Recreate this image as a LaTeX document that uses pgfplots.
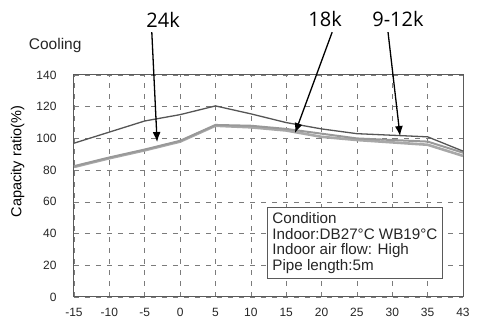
\documentclass[border=0pt]{standalone}
\usepackage{pgfplots}
\pgfplotsset{compat=1.18}
\usetikzlibrary{arrows.meta}
\usepackage{fontspec}
\setmainfont{Liberation Sans}
\newfontfamily\annfont{Open Sans}
\definecolor{frame}{HTML}{5A5A5A}
\definecolor{darkline}{HTML}{555555}
\definecolor{lightline}{HTML}{999999}
\definecolor{lightline2}{HTML}{A8A8A8}
\begin{document}
\begin{tikzpicture}
\begin{axis}[
    scale only axis,
    width=389pt, height=222pt,
    xmin=0, xmax=11,
    ymin=0, ymax=140,
    xtick={0,...,11},
    xticklabels={-15,-10,-5,0,5,10,15,20,25,30,35,43},
    ytick={0,20,...,140},
    major tick length=0pt,
    axis line style={frame, line width=1pt},
    grid=major,
    major grid style={frame!80, dash pattern=on 5pt off 6pt, line width=0.6pt},
    tick label style={font=\fontsize{12}{14}\selectfont, text=black!85},
    xticklabel style={yshift=-8pt},
    yticklabel style={xshift=-14pt},
    /pgf/number format/assume math mode=true,
    ylabel={Capacity ratio(\%)},
    ylabel style={font=\fontsize{14.5}{16}\selectfont, at={(rel axis cs:-0.145,0.61)}, anchor=center},
    clip=false,
]
% 9-12k (lower, lighter)
\addplot[lightline2, line width=2.6pt] coordinates {
    (0,82) (1,87.5) (2,92.5) (3,98) (4,108) (5,107) (6,105) (7,101) (8,99) (9,97.5) (10,96) (11,89)
};
% 18k
\addplot[lightline, line width=2pt] coordinates {
    (0,82.5) (1,88) (2,93) (3,98.5) (4,108.5) (5,108) (6,106) (7,103) (8,100) (9,99) (10,98) (11,91)
};
% 24k (upper, dark)
\addplot[darkline, line width=1.3pt] coordinates {
    (0,97) (1,104) (2,111) (3,115) (4,120.5) (5,115.5) (6,110) (7,106) (8,103) (9,102) (10,101) (11,92)
};
\node[draw=frame, line width=0.9pt, fill=white, anchor=north west, align=left,
      inner sep=4.5pt, font=\fontsize{15.2}{15.8}\selectfont, text=black!85]
    at (axis cs:5.47,56.5) {Condition\\Indoor:DB27°C WB19°C\\Indoor air flow: High\\Pipe length:5m};
\node[anchor=west, font=\fontsize{15.5}{17}\selectfont, text=black!85]
    at (rel axis cs:-0.125,1.135) {Cooling};
% annotations
\node[font=\annfont\fontsize{20}{22}\selectfont] at (axis cs:2.52,175) {24k};
\node[font=\annfont\fontsize{20}{22}\selectfont] at (axis cs:7.1,175) {18k};
\node[font=\annfont\fontsize{20}{22}\selectfont] at (axis cs:9.16,175) {9-12k};
\draw[-{Latex[length=10pt,width=8pt]}, line width=1.3pt] (axis cs:2.2,167) -- (axis cs:2.35,97.7);
\draw[-{Latex[length=10pt,width=8pt]}, line width=1.3pt] (axis cs:7.3,167) -- (axis cs:6.25,103.4);
\draw[-{Latex[length=10pt,width=8pt]}, line width=1.3pt] (axis cs:8.88,167) -- (axis cs:9.22,101.5);
\end{axis}
\pgfresetboundingbox
\path[use as bounding box] (-74pt,-37pt) rectangle (403pt,297pt);
\end{tikzpicture}
\end{document}
